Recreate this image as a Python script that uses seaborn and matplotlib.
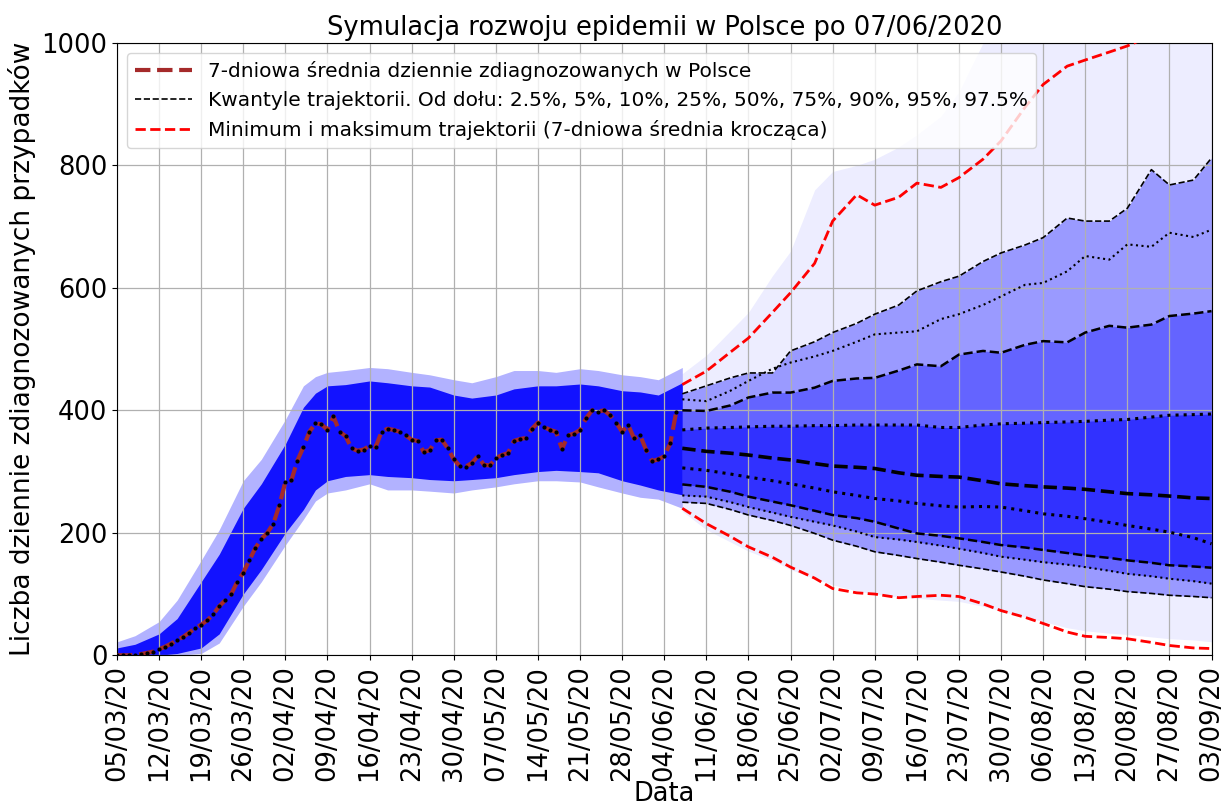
import pandas as pd
import matplotlib
matplotlib.use("Agg")
import matplotlib.pyplot as plt
import seaborn as sns

# os czasu: dni od 05/03/2020
start = pd.Timestamp("2020-03-05")
tick_days = list(range(0, 183, 7))
tick_labels = pd.date_range(start, periods=len(tick_days), freq="7D").strftime("%d/%m/%y").tolist()

# 7-dniowa srednia zdiagnozowanych (dni 0..93)
obs_days = list(range(94))
obs_vals = [0, 0, 0, 1, 2, 4, 6, 10, 14, 19, 25, 30, 37, 44, 50, 57, 67, 80, 90, 100,
            120, 135, 155, 175, 190, 200, 215, 245, 283, 286, 318, 340, 365, 379, 377,
            368, 390, 365, 358, 338, 334, 336, 342, 340, 365, 370, 368, 365, 359, 352,
            350, 332, 335, 351, 352, 338, 320, 309, 308, 314, 325, 311, 310, 322, 327,
            330, 350, 353, 355, 370, 380, 373, 368, 365, 337, 359, 362, 368, 387, 400,
            398, 400, 392, 380, 365, 376, 354, 359, 335, 317, 320, 325, 346, 398]

# chmura trajektorii przed prognoza (obwiednie)
hist_days = [0, 3, 7, 10, 14, 17, 21, 24, 28, 31, 33, 35, 38, 42, 45, 49, 52, 56, 59,
             63, 66, 70, 73, 77, 80, 84, 87, 90, 94]
hist_dense_hi = [12, 18, 35, 60, 120, 165, 240, 280, 345, 405, 428, 440, 442, 448, 445,
                 440, 438, 425, 420, 425, 435, 440, 440, 443, 440, 432, 430, 425, 445]
hist_dense_lo = [0, 0, 0, 3, 12, 35, 100, 140, 200, 238, 270, 285, 292, 295, 292, 290,
                 287, 285, 287, 290, 295, 300, 302, 300, 298, 285, 278, 270, 262]
hist_faint_hi = [22, 32, 55, 90, 155, 205, 285, 320, 385, 440, 455, 462, 465, 470, 468,
                 462, 458, 450, 445, 455, 465, 465, 462, 468, 465, 458, 455, 450, 470]
hist_faint_lo = [0, 0, 0, 0, 3, 20, 80, 120, 180, 222, 252, 265, 270, 280, 270, 270,
                 268, 265, 270, 275, 280, 285, 285, 283, 275, 265, 258, 255, 240]

# prognoza: kwantyle, min/max
fc_days = [94, 98, 102, 105, 109, 112, 116, 119, 123, 126, 130, 133, 137, 140, 144, 147,
           151, 154, 158, 161, 165, 168, 172, 175, 179, 182]
q025 = [250, 248, 238, 229, 220, 212, 199, 188, 178, 169, 163, 158, 152, 147, 141, 136,
        129, 123, 117, 112, 108, 104, 101, 98, 96, 94]
q05 = [261, 259, 250, 242, 233, 226, 218, 212, 202, 193, 189, 185, 179, 174, 167, 161,
       156, 152, 148, 144, 138, 133, 129, 125, 121, 117]
q10 = [279, 275, 267, 259, 251, 245, 236, 229, 224, 218, 207, 199, 195, 191, 185, 180,
       176, 172, 167, 163, 159, 155, 151, 147, 145, 143]
q25 = [306, 302, 296, 291, 285, 280, 273, 267, 261, 256, 252, 248, 244, 242, 243, 242,
       236, 231, 227, 223, 217, 212, 206, 201, 192, 182]
q50 = [338, 333, 330, 327, 322, 319, 313, 309, 307, 305, 298, 294, 292, 291, 285, 280,
       277, 275, 273, 271, 267, 264, 262, 260, 257, 256]
q75 = [368, 371, 372, 373, 374, 374, 375, 375, 376, 376, 376, 376, 372, 372, 376, 378,
       379, 380, 381, 382, 384, 385, 389, 392, 393, 394]
q90 = [400, 399, 408, 421, 429, 429, 437, 448, 452, 453, 465, 475, 472, 491, 497, 494,
       507, 513, 511, 527, 538, 535, 540, 554, 558, 562]
q95 = [418, 415, 432, 448, 468, 478, 488, 497, 512, 524, 527, 529, 549, 557, 572, 586,
       605, 608, 627, 652, 646, 671, 667, 690, 683, 695]
q975 = [427, 440, 453, 461, 461, 497, 512, 527, 542, 557, 572, 595, 610, 619, 643, 657,
        670, 682, 714, 709, 709, 730, 793, 768, 776, 812]
traj_max = [442, 464, 495, 518, 560, 592, 640, 709, 752, 735, 748, 771, 764, 780, 810,
            840, 895, 932, 962, 972, 985, 995, 1012, 1030, 1050, 1070]
traj_min = [240, 215, 194, 177, 160, 144, 126, 109, 102, 100, 94, 96, 98, 96, 84, 73, 62,
            52, 38, 31, 29, 27, 21, 16, 12, 11]
fc_faint_hi = [460, 490, 530, 560, 620, 660, 760, 790, 800, 810, 830, 850, 880, 920,
               1000, 1050, 1050, 1050, 1050, 1050, 1050, 1050, 1050, 1050, 1050, 1050]
fc_faint_lo = [235, 205, 185, 170, 155, 140, 125, 115, 105, 100, 95, 93, 90, 88, 80, 72,
               62, 55, 45, 40, 36, 34, 30, 27, 25, 22]

fig, ax = plt.subplots(figsize=(12.25, 8.09), dpi=100)
fig.subplots_adjust(left=0.0955, right=0.989, bottom=0.19, top=0.947)

blue = "#0000ff"
# chmura trajektorii
ax.fill_between(hist_days, hist_faint_lo, hist_faint_hi, color=blue, alpha=0.3, lw=0)
ax.fill_between(hist_days, hist_dense_lo, hist_dense_hi, color=blue, alpha=0.9, lw=0)
ax.fill_between(fc_days, fc_faint_lo, fc_faint_hi, color=blue, alpha=0.07, lw=0)
ax.fill_between(fc_days, q025, q975, color=blue, alpha=0.35, lw=0)
ax.fill_between(fc_days, q05, q90, color=blue, alpha=0.35, lw=0)
ax.fill_between(fc_days, q10, q75, color=blue, alpha=0.5, lw=0)

# kwantyle
quantiles = [q025, q05, q10, q25, q50, q75, q90, q95, q975]
styles = [("--", 1.2), (":", 1.5), ("--", 1.8), (":", 2.2), ("--", 2.6),
          (":", 2.2), ("--", 1.8), (":", 1.5), ("--", 1.2)]
for i, (q, (ls, lw)) in enumerate(zip(quantiles, styles)):
    lab = ("Kwantyle trajektorii. Od dołu: 2.5%, 5%, 10%, 25%, 50%, 75%, 90%, 95%, 97.5%"
           if i == 0 else None)
    sns.lineplot(x=fc_days, y=q, ax=ax, color="k", linestyle=ls, linewidth=lw,
                 label=lab, zorder=3)

# min / max
sns.lineplot(x=fc_days, y=traj_max, ax=ax, color="red", linestyle="--", linewidth=2,
             label="Minimum i maksimum trajektorii (7-dniowa średnia krocząca)", zorder=4)
sns.lineplot(x=fc_days, y=traj_min, ax=ax, color="red", linestyle="--", linewidth=2,
             zorder=4)

# dane obserwowane
sns.lineplot(x=obs_days, y=obs_vals, ax=ax, color="#a52a2a", linestyle="--", linewidth=3,
             label="7-dniowa średnia dziennie zdiagnozowanych w Polsce", zorder=5)
sns.scatterplot(x=obs_days, y=obs_vals, ax=ax, color="k", s=9, linewidth=0, zorder=6)

ax.set_xlim(0, 182)
ax.set_ylim(0, 1000)
ax.set_xticks(tick_days)
ax.set_xticklabels(tick_labels, rotation=90, fontsize=18.5)
ax.set_yticks([0, 200, 400, 600, 800, 1000])
ax.tick_params(axis="y", labelsize=18.5)
ax.set_axisbelow("line")
ax.grid(True, color="#b0b0b0", linewidth=0.9)
ax.set_xlabel("Data", fontsize=18.5, labelpad=0)
ax.set_ylabel("Liczba dziennie zdiagnozowanych przypadków", fontsize=19)
ax.set_title("Symulacja rozwoju epidemii w Polsce po 07/06/2020", fontsize=18.5)

handles, labels = ax.get_legend_handles_labels()
order = [labels.index(l) for l in [
    "7-dniowa średnia dziennie zdiagnozowanych w Polsce",
    "Kwantyle trajektorii. Od dołu: 2.5%, 5%, 10%, 25%, 50%, 75%, 90%, 95%, 97.5%",
    "Minimum i maksimum trajektorii (7-dniowa średnia krocząca)"]]
ax.legend([handles[i] for i in order], [labels[i] for i in order], loc="upper left",
          fontsize=14.5, handlelength=2.8)

plt.savefig("out.png", dpi=100)
plt.close()
